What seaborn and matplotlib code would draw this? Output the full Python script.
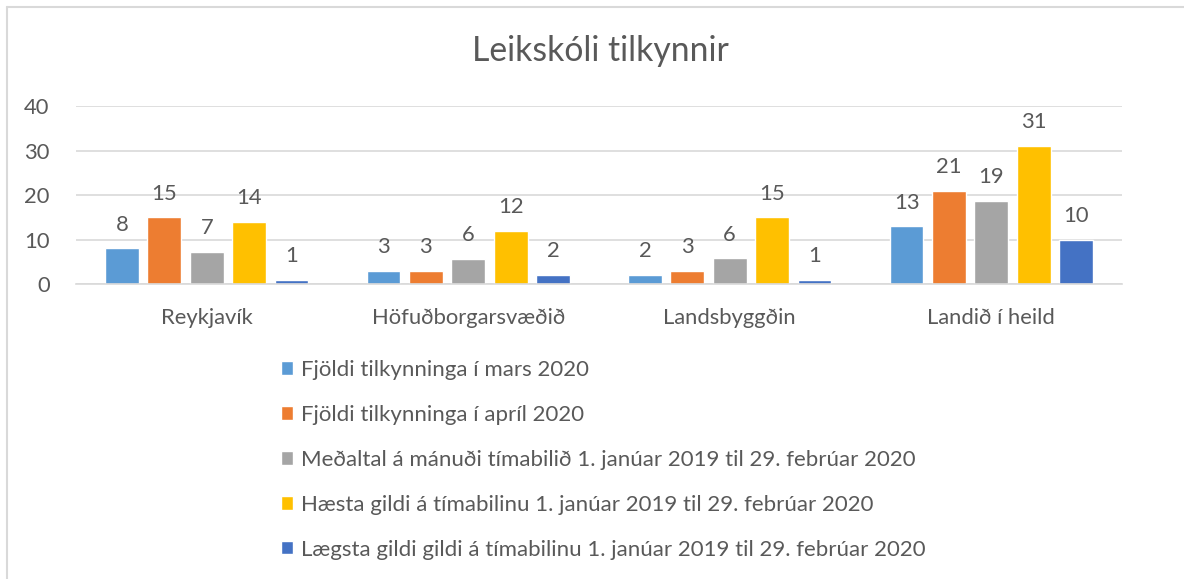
import matplotlib
matplotlib.use("Agg")
import matplotlib.pyplot as plt
import seaborn as sns
import pandas as pd
from matplotlib.lines import Line2D

categories = ["Reykjavík", "Höfuðborgarsvæðið", "Landsbyggðin", "Landið í heild"]
series_names = [
    "Fjöldi tilkynninga í mars 2020",
    "Fjöldi tilkynninga í apríl 2020",
    "Meðaltal á mánuði tímabilið 1. janúar 2019 til 29. febrúar 2020",
    "Hæsta gildi á tímabilinu 1. janúar 2019 til 29. febrúar 2020",
    "Lægsta gildi gildi á tímabilinu 1. janúar 2019 til 29. febrúar 2020",
]
mars_2020 = [8, 3, 2, 13]
april_2020 = [15, 3, 3, 21]
medaltal = [7.2, 5.7, 5.8, 18.7]
haesta = [14, 12, 15, 31]
laegsta = [1, 2, 1, 10]
yticks = [0, 10, 20, 30, 40]

colors = ["#5B9BD5", "#ED7D31", "#A5A5A5", "#FFC000", "#4472C4"]
text_color = "#595959"

sns.set_theme(style="white")
plt.rcParams["font.family"] = ["Lato", "DejaVu Sans"]

rows = []
for name, vals in zip(series_names, [mars_2020, april_2020, medaltal, haesta, laegsta]):
    for c, v in zip(categories, vals):
        rows.append({"cat": c, "series": name, "value": v})
df = pd.DataFrame(rows)

W, H = 1184, 579
fig = plt.figure(figsize=(W / 100, H / 100), dpi=100)
ax = fig.add_axes([76 / W, 1 - 284 / H, (1122 - 76) / W, (284 - 106) / H])

sns.barplot(data=df, x="cat", y="value", hue="series", order=categories,
            hue_order=series_names, palette=colors, width=0.81, gap=0.2,
            saturation=1, ax=ax, legend=True)

for cont in ax.containers:
    for b in cont:
        ax.annotate(f"{b.get_height():.0f}", (b.get_x() + b.get_width() / 2, b.get_height()),
                    xytext=(0, 17), textcoords="offset points",
                    ha="center", va="center", fontsize=15.8, color=text_color)

ax.set_ylim(0, 40)
ax.set_xlim(-0.5, len(categories) - 0.5)
ax.set_yticks(yticks)
ax.yaxis.grid(True, color="#D9D9D9", linewidth=1.2)
ax.set_axisbelow(True)
for s in ["top", "right", "left"]:
    ax.spines[s].set_visible(False)
ax.spines["bottom"].set_color("#D9D9D9")
ax.spines["bottom"].set_linewidth(1.2)
ax.set_xlabel("")
ax.set_ylabel("")
ax.tick_params(axis="both", length=0, labelsize=15.8, labelcolor=text_color)
ax.tick_params(axis="x", pad=17)
ax.tick_params(axis="y", pad=19)

handles, labs = ax.get_legend_handles_labels()
ax.legend_.remove()
fig.legend(handles, labs, loc="upper left", bbox_to_anchor=(281 / W, 1 - 360 / H),
           frameon=False, fontsize=16, labelcolor=text_color,
           handlelength=0.55, handleheight=0.55, handletextpad=0.35,
           labelspacing=1.12, borderaxespad=0, borderpad=0)

fig.text(600 / W, 1 - 51 / H, "Leikskóli tilkynnir", ha="center", va="center",
         fontsize=24.3, color=text_color)

# chart border (top and left visible)
fig.add_artist(Line2D([7 / W, 1], [1 - 7 / H, 1 - 7 / H], transform=fig.transFigure,
                      color="#D9D9D9", linewidth=1.5))
fig.add_artist(Line2D([7 / W, 7 / W], [0, 1 - 7 / H], transform=fig.transFigure,
                      color="#D9D9D9", linewidth=1.5))

fig.savefig("out.png", dpi=100, facecolor="white")
